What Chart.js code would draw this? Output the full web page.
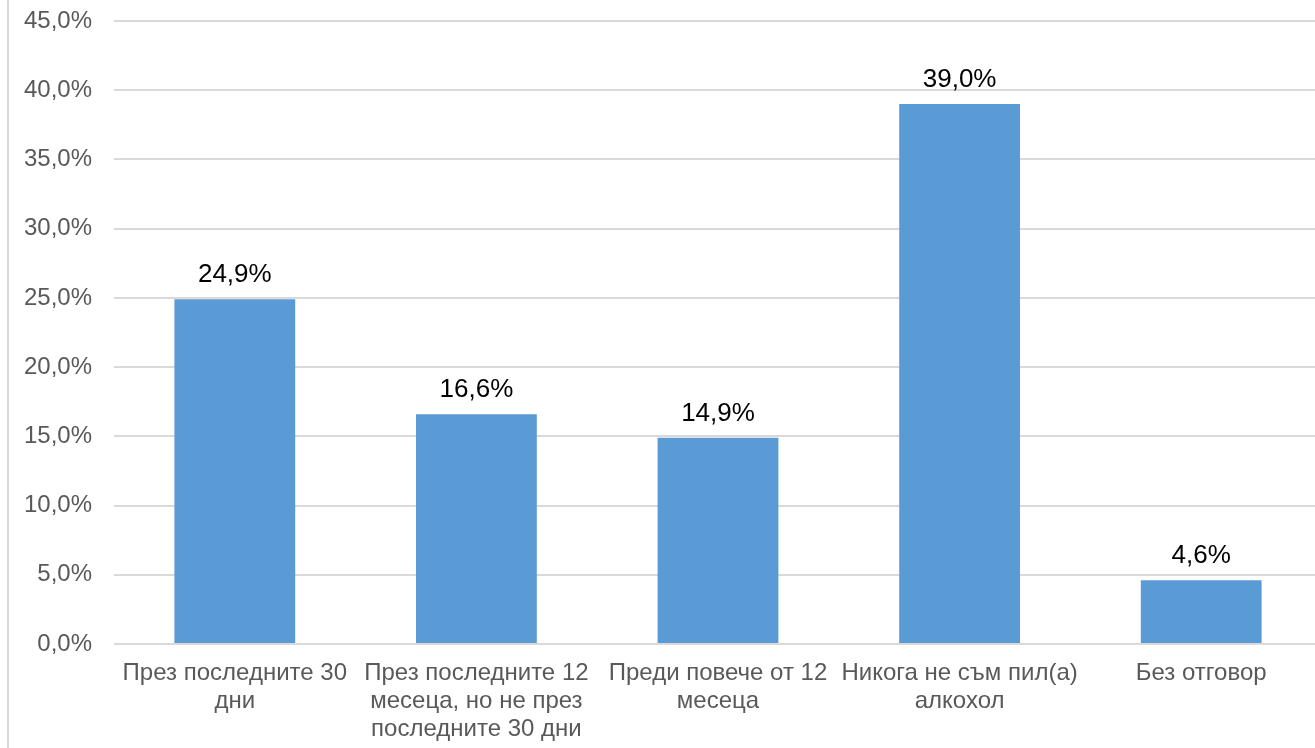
<!DOCTYPE html>
<html>
<head>
<meta charset="utf-8">
<script src="https://cdn.jsdelivr.net/npm/chart.js@4.4.1/dist/chart.umd.min.js"></script>
<style>
  html, body { margin: 0; padding: 0; background: #fff; overflow: hidden; }
  /* the plot runs a few px past the right edge, as in the original */
  #wrap { position: relative; width: 1315px; height: 748px; overflow: hidden; }
  #edge { position: absolute; left: 7px; top: 0; width: 2px; height: 748px; background: #d9d9d9; }
  canvas { position: absolute; left: 0; top: 0; }
</style>
</head>
<body>
<div id="wrap">
  <div id="edge"></div>
  <canvas id="chart" width="1322" height="748"></canvas>
</div>
<script>
const categories = [
  ['През последните 30', 'дни'],
  ['През последните 12', 'месеца, но не през', 'последните 30 дни'],
  ['Преди повече от 12', 'месеца'],
  ['Никога не съм пил(а)', 'алкохол'],
  ['Без отговор']
];
const values = [24.9, 16.6, 14.9, 39.0, 4.6];
const yMax = 45;
const yStep = 5;

const fontFamily = '"Liberation Sans", Arial, sans-serif';
const fmt = (v) => v.toFixed(1).replace('.', ',') + '%';

// value labels above bars
const valueLabels = {
  id: 'valueLabels',
  afterDatasetsDraw(chart) {
    const ctx = chart.ctx;
    const meta = chart.getDatasetMeta(0);
    ctx.save();
    ctx.font = '26px ' + fontFamily;
    ctx.fillStyle = '#000';
    ctx.textAlign = 'center';
    ctx.textBaseline = 'bottom';
    meta.data.forEach((bar, i) => {
      ctx.fillText(fmt(values[i]), bar.x, bar.y - 11);
    });
    ctx.restore();
  }
};

new Chart(document.getElementById('chart'), {
  type: 'bar',
  data: {
    labels: categories,
    datasets: [{
      data: values,
      backgroundColor: '#5b9bd5',
      barPercentage: 0.5,
      categoryPercentage: 1.0
    }]
  },
  options: {
    responsive: false,
    animation: false,
    layout: { padding: { top: 21, left: 0, right: 0, bottom: 0 } },
    plugins: { legend: { display: false }, tooltip: { enabled: false } },
    scales: {
      x: {
        grid: { display: false, drawTicks: false },
        border: { display: false },
        ticks: {
          color: '#595959',
          font: { family: fontFamily, size: 24, lineHeight: 1.15 },
          padding: 16,
          maxRotation: 0,
          autoSkip: false
        },
        afterFit(scale) {
          scale.height = 748 - 644;
          scale.paddingLeft = 0;
          scale.paddingRight = 0;
        }
      },
      y: {
        min: 0,
        max: yMax,
        grid: { color: '#d9d9d9', lineWidth: 2, drawTicks: false },
        border: { display: false },
        ticks: {
          stepSize: yStep,
          color: '#595959',
          font: { family: fontFamily, size: 24 },
          padding: 22,
          callback: (v) => fmt(v)
        },
        afterFit(scale) {
          scale.width = 114;
          scale.paddingTop = 0;
          scale.paddingBottom = 0;
        }
      }
    }
  },
  plugins: [valueLabels]
});
</script>
</body>
</html>
